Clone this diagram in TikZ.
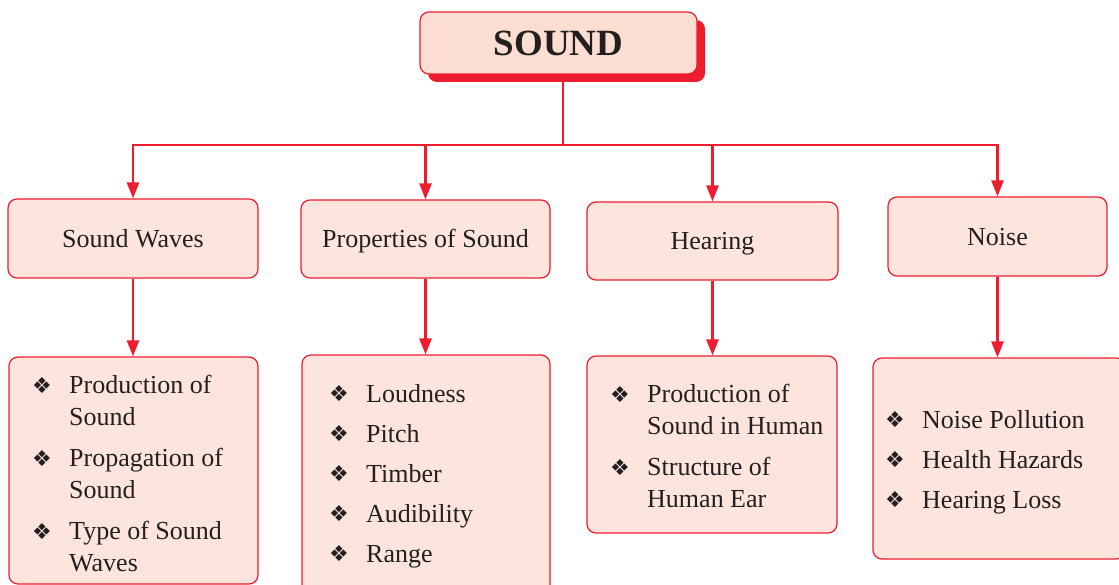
\documentclass[tikz,border=0pt]{standalone}
\usepackage{fontspec}
\setmainfont{Liberation Serif}
\newfontfamily\dingfont{DejaVu Sans}
\usetikzlibrary{arrows.meta,shadows}

\definecolor{chartred}{HTML}{ED1C2E}
\definecolor{boxpink}{HTML}{FDE5DE}
\definecolor{headpink}{HTML}{FCDDD1}
\definecolor{inkgray}{HTML}{231F20}

\newcommand{\bul}{\makebox[37pt][l]{\fontsize{22}{22}\dingfont\raisebox{0.5pt}{❖}}}
\newcommand{\gap}{\hspace*{37pt}}

\begin{document}
\begin{tikzpicture}[x=1pt,y=-1pt,
    box/.style={draw=chartred, line width=1.2pt, fill=boxpink, rounded corners=9pt,
      inner sep=0pt, text=inkgray, font=\fontsize{26}{32}\selectfont},
    head/.style={box, text height=18pt, text depth=0pt},
    list/.style={inner sep=0pt, align=left, anchor=north west, text=inkgray,
      font=\fontsize{26}{32}\selectfont},
    link/.style={draw=chartred, line width=2.6pt},
    arr/.style={link, -{Triangle[width=12pt,length=16pt]}}]
  \useasboundingbox (0,0) rectangle (1119,585);
  \clip (0,0) rectangle (1119,585);

  % top
  \node[head, fill=headpink, minimum width=277pt, minimum height=62pt,
    font=\fontsize{37}{40}\selectfont\bfseries, text height=25pt,
    drop shadow={shadow xshift=8pt, shadow yshift=-8pt, fill=chartred, opacity=1}]
    (sound) at (558.5,43) {SOUND};
  \coordinate (bus) at (563,145);

  % second row
  \node[head, minimum width=250pt, minimum height=79pt] (waves) at (133,238.5) {Sound Waves};
  \node[head, minimum width=249pt, minimum height=78pt] (props) at (425.5,239) {Properties of Sound};
  \node[head, minimum width=251pt, minimum height=78pt] (hear) at (712.5,241) {Hearing};
  \node[head, minimum width=219pt, minimum height=79pt] (noise) at (997.5,236.5) {Noise};

  % third row
  \node[box, minimum width=249pt, minimum height=227pt] (wavesl) at (133.5,470.5) {};
  \node[box, minimum width=248pt, minimum height=255pt] (propsl) at (426,482.5) {};
  \node[box, minimum width=250pt, minimum height=177pt] (hearl) at (712,444.5) {};
  \node[box, minimum width=252pt, minimum height=201pt] (noisel) at (999,458.5) {};

  \node[list] (wavest) at (32,375) {\bul Production of\\ \gap Sound\\[9pt]
    \bul Propagation of\\ \gap Sound\\[9pt] \bul Type of Sound\\ \gap Waves};
  \node[list] (propst) at (329,384) {\bul Loudness\\[8pt] \bul Pitch\\[8pt]
    \bul Timber\\[8pt] \bul Audibility\\[8pt] \bul Range};
  \node[list] (heart) at (610,384) {\bul Production of\\ \gap Sound in Human\\[9pt]
    \bul Structure of\\ \gap Human Ear};
  \node[list] (noiset) at (885,410) {\bul Noise Pollution\\[8pt] \bul Health Hazards\\[8pt]
    \bul Hearing Loss};

  % connectors
  \draw[link] (sound.south -| bus) -- (bus);
  \foreach \n in {waves,props,hear,noise}
    \draw[arr] (bus) -| (\n.north);
  \foreach \n in {waves,props,hear,noise}
    \draw[arr] (\n.south) -- (\n.south |- \n l.north);
\end{tikzpicture}
\end{document}
